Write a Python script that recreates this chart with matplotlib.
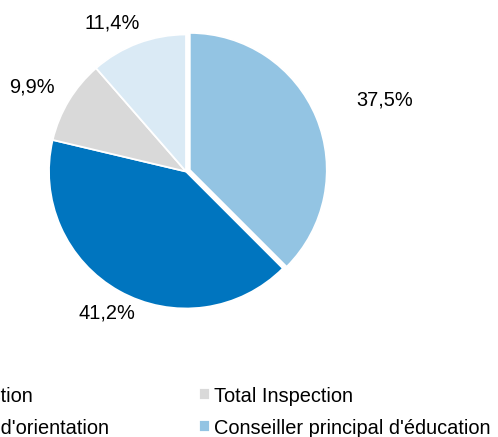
import numpy as np
import matplotlib
matplotlib.use("Agg")
import matplotlib.pyplot as plt

plt.rcParams['font.family'] = ['Liberation Sans', 'DejaVu Sans']

# Pie slices, clockwise from 12 o'clock
categories = ["Conseiller principal d'éducation", "Total Direction",
              "Total Inspection", "Conseiller d'orientation"]
shares = [37.5, 41.2, 9.9, 11.4]
colors = ["#93C4E3", "#0075BF", "#D9D9D9", "#DAEAF5"]
explode = [0.03, 0, 0, 0]

# Label placement around the pie (radial distance, angular nudge in degrees)
label_dist = [1.54, 1.18, 1.28, 1.21]
label_nudge = [-2.6, 0, 2.5, 6]

# Legend order: first column, then second column
legend_order = ["Total Direction", "Conseiller d'orientation",
                "Total Inspection", "Conseiller principal d'éducation"]

W, H = 498, 437
fig = plt.figure(figsize=(W / 100, H / 100), dpi=100)

cx, cy, r = 186, 171.5, 137
ext = 1.1
size = 2 * ext * r
ax = fig.add_axes([(cx - ext * r) / W, 1 - (cy + ext * r) / H, size / W, size / H])

wedges, _ = ax.pie(shares, colors=colors, startangle=90, counterclock=False,
                   explode=explode, radius=1,
                   wedgeprops=dict(edgecolor='white', linewidth=1.3))
ax.set_xlim(-ext, ext)
ax.set_ylim(-ext, ext)
ax.set_aspect('equal')
ax.axis('off')

for w, val, d, nud in zip(wedges, shares, label_dist, label_nudge):
    ang = np.deg2rad((w.theta1 + w.theta2) / 2 + nud)
    ax.text(d * np.cos(ang), d * np.sin(ang), f"{val:.1f}".replace('.', ',') + "%",
            ha='center', va='center', fontsize=14.4, color='#000000', clip_on=False)

handle_map = dict(zip(categories, wedges))
handles = [handle_map[c] for c in legend_order]
fig.legend(handles, legend_order, loc='upper left', ncol=2,
           bbox_to_anchor=(-109 / W, 1 - 386.5 / H), frameon=False,
           fontsize=14.4, borderpad=0, borderaxespad=0,
           handlelength=0.55, handleheight=0.55, handletextpad=0.2,
           columnspacing=4.5, labelspacing=0.65)

fig.savefig("out.png", dpi=100)
